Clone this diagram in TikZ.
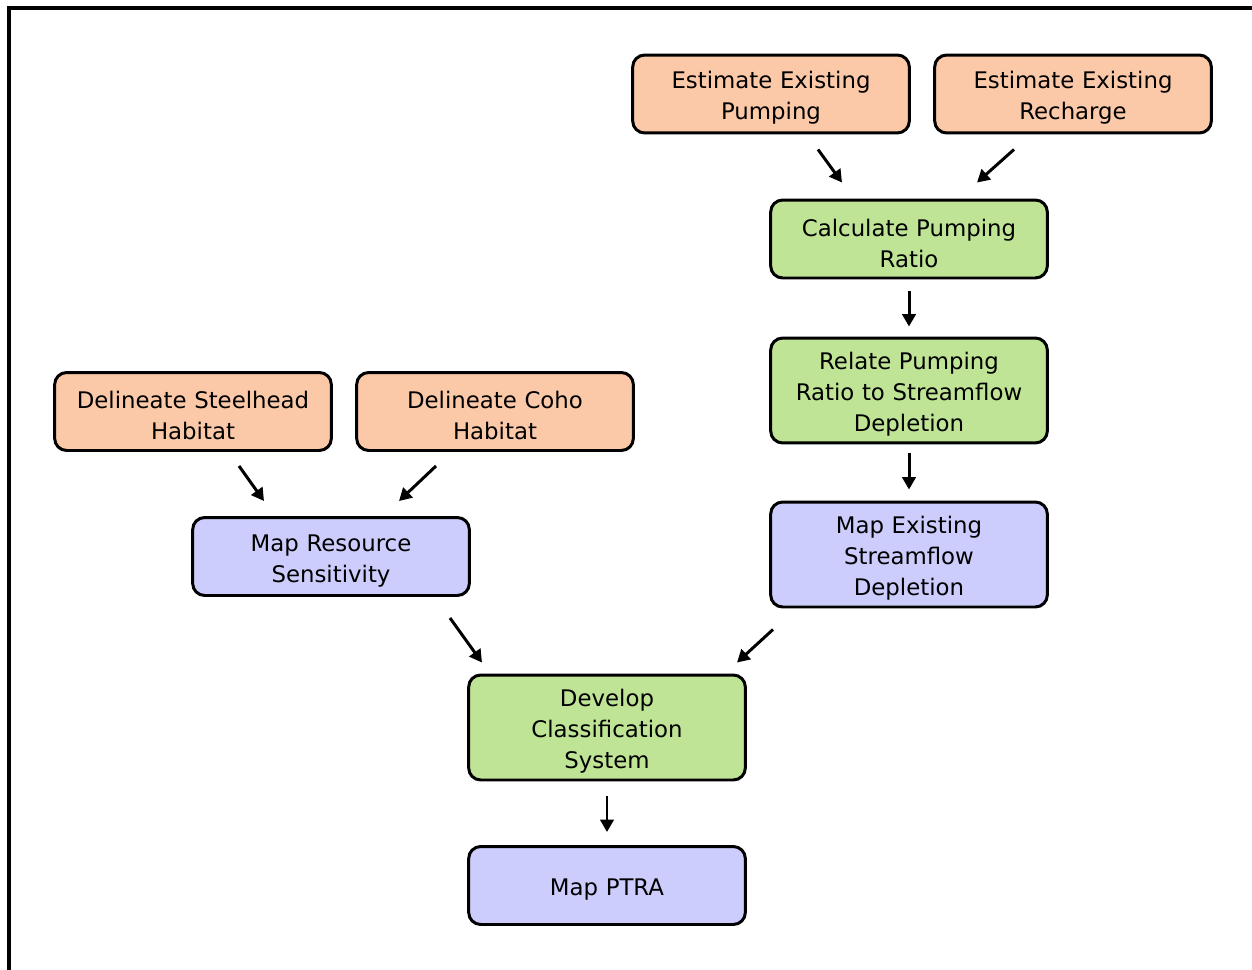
\documentclass[tikz,border=0pt]{standalone}
\usepackage{fontspec}
\setmainfont{DejaVu Sans}
\usepackage{tikz}
\usepackage{xcolor}
\usetikzlibrary{
    arrows.meta,
    calc,
    shapes.misc
}
\definecolor{peach}{RGB}{252,201,168}
\definecolor{leaf}{RGB}{192,228,150}
\definecolor{lilac}{RGB}{204,205,252}

\begin{document}
\begin{tikzpicture}[x=0.02cm, y=-0.02cm,
            box/.style={draw, rounded corners=0.24cm, line width=1.7pt, text width=5.3cm, align=center,
                        minimum width=5.52cm, minimum height=1.56cm,
                        execute at begin node={\rule{0pt}{14.5pt}},
                        font=\fontsize{13pt}{17.6pt}\selectfont},
            tallbox/.style={box, minimum height=2.1cm},
            arr/.style={->, >={Triangle[length=0.25cm, width=0.27cm]}, line width=1.7pt}]
            \useasboundingbox (0,0) rectangle (1252,970);
            \draw[line width=0.08cm] (9,8) rectangle (1300,1010);

            \node[box, fill=peach] (pumping)  at (771, 94) {Estimate Existing\\Pumping};
            \node[box, fill=peach] (recharge) at (1073, 94) {Estimate Existing\\Recharge};
            \node[box, fill=leaf] (ratio) at (909, 239) {Calculate Pumping\\Ratio};
            \node[tallbox, fill=leaf] (relate) at (909, 390.5) {Relate Pumping\\Ratio to Streamflow\\Depletion};
            \node[tallbox, fill=lilac] (depletion) at (909, 554.5) {Map Existing\\Streamflow\\Depletion};

            \node[box, fill=peach] (steelhead) at (193, 411.5) {Delineate Steelhead\\Habitat};
            \node[box, fill=peach] (coho) at (495, 411.5) {Delineate Coho\\Habitat};
            \node[box, fill=lilac] (sensitivity) at (331, 556.5) {Map Resource\\Sensitivity};

            \node[tallbox, fill=leaf] (classify) at (607, 727.5) {Develop\\Classification\\System};
            \node[box, fill=lilac] (ptra) at (607, 885.5) {Map PTRA};

            \draw[arr] ($(pumping.south)+(47,15)$) -- ($(ratio.north)+(-67,-16)$);
            \draw[arr] ($(recharge.south)+(-59,15)$) -- ($(ratio.north)+(68,-16)$);
            \draw[arr] ($(ratio.south)+(0,12)$) -- ($(relate.north)+(0,-10)$);
            \draw[arr] ($(relate.south)+(0,9)$) -- ($(depletion.north)+(0,-11)$);

            \draw[arr] ($(steelhead.south)+(46,14)$) -- ($(sensitivity.north)+(-67,-15)$);
            \draw[arr] ($(coho.south)+(-59,14)$) -- ($(sensitivity.north)+(68,-15)$);

            \draw[arr] ($(sensitivity.south)+(119,21)$) -- ($(classify.north)+(-125,-11)$);
            \draw[arr] ($(depletion.south)+(-136,21)$) -- ($(classify.north)+(130,-11)$);
            \draw[arr] ($(classify.south)+(0,15)$) -- ($(ptra.north)+(0,-13)$);
\end{tikzpicture}
\end{document}
